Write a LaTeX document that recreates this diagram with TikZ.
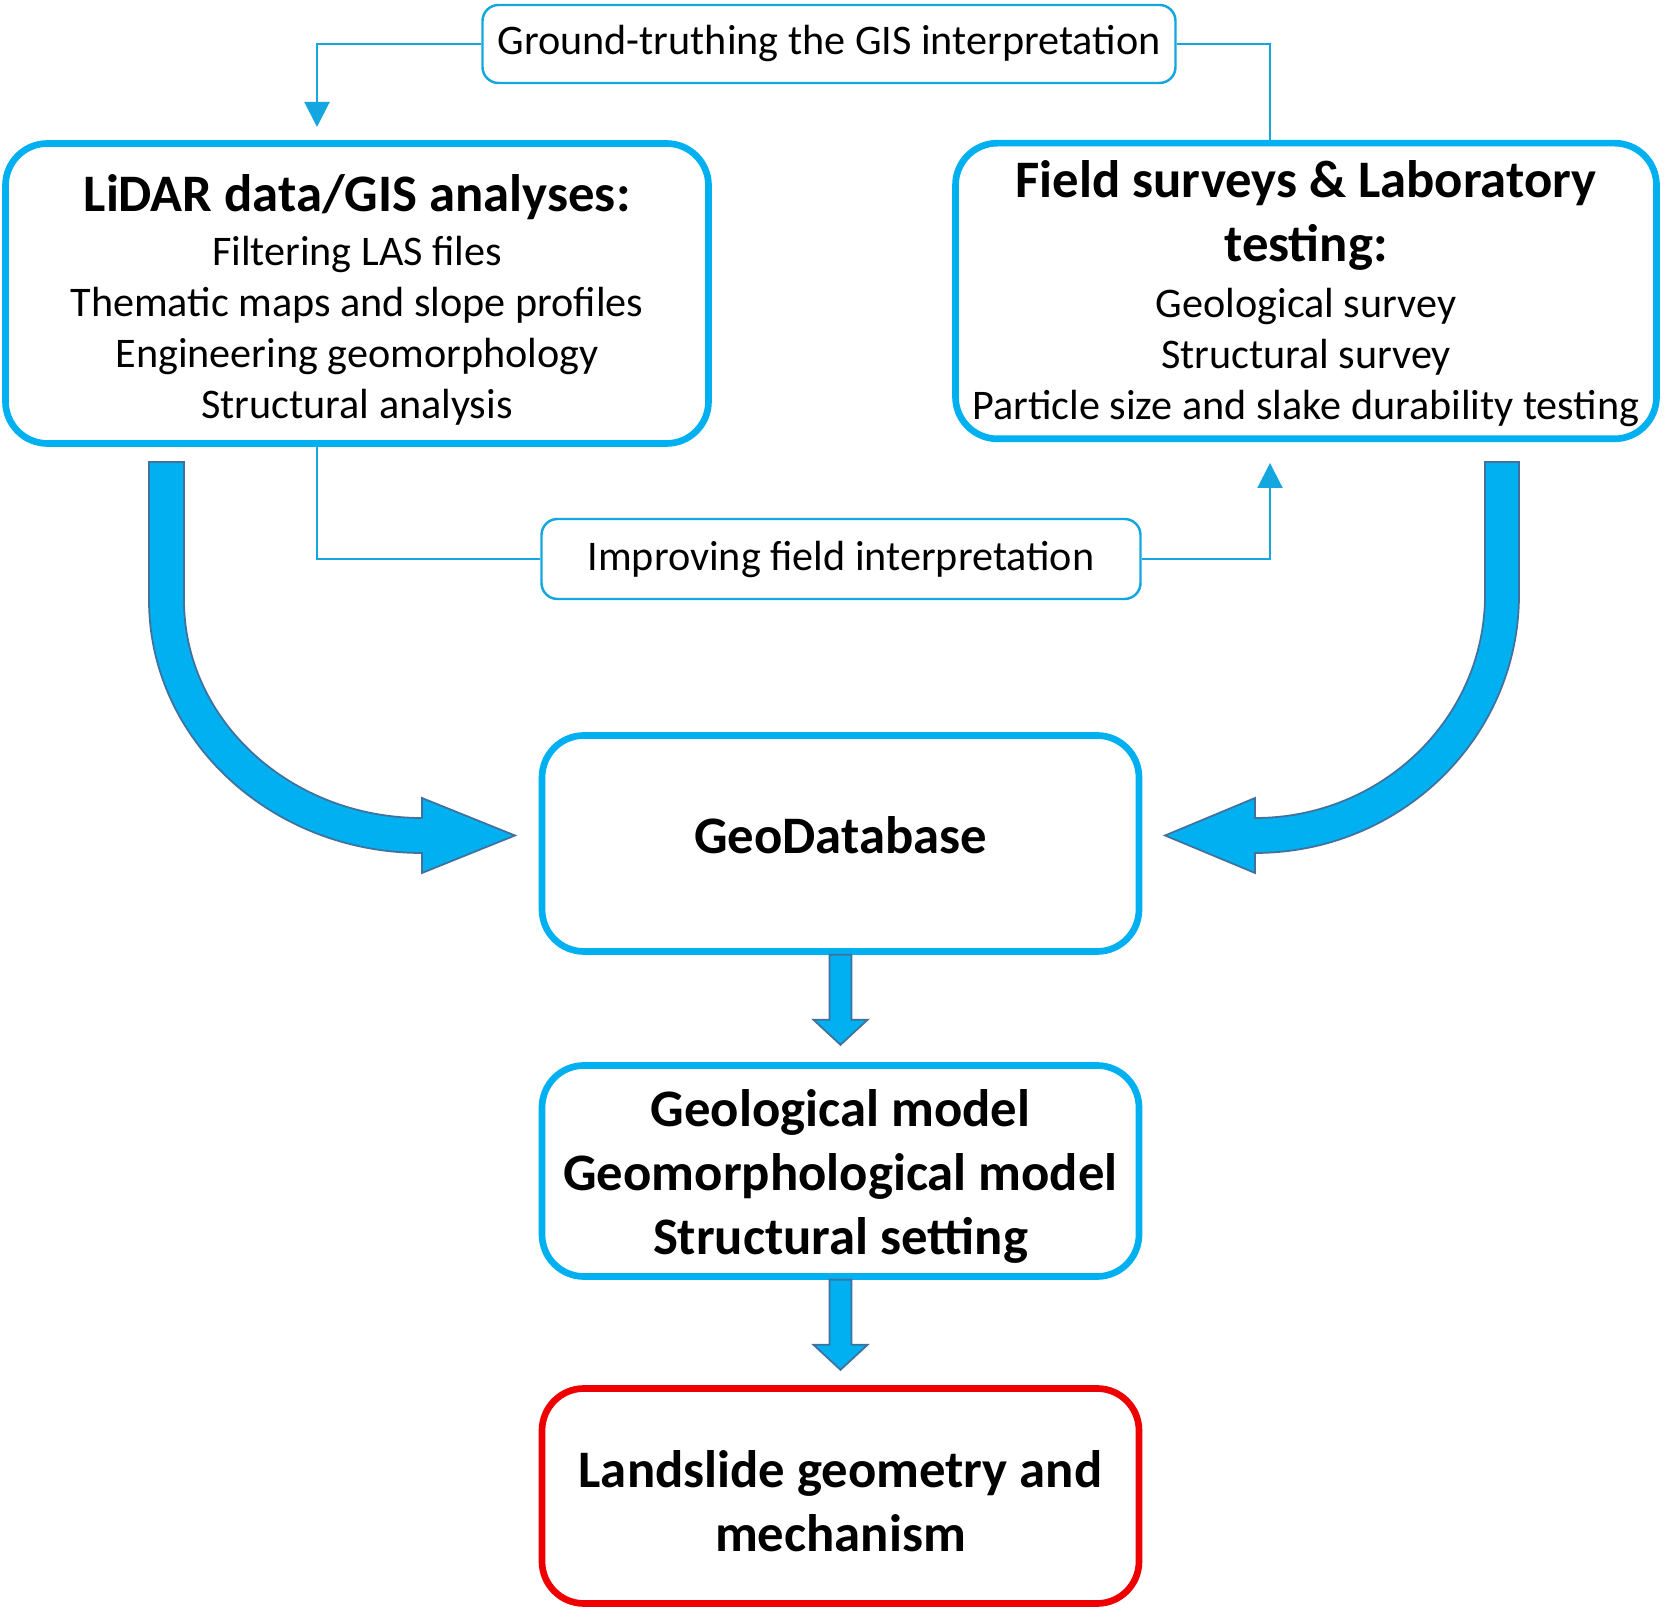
\documentclass[tikz,border=0pt]{standalone}
\usepackage{fontspec}
\setmainfont{Carlito}
\usetikzlibrary{arrows.meta}
\definecolor{boxblue}{RGB}{0,176,240}
\definecolor{linkblue}{RGB}{20,166,222}
\definecolor{arrowedge}{RGB}{65,113,156}
\definecolor{slidered}{RGB}{238,0,0}
\newcommand{\boxtitle}[1]{{\fontsize{15}{18.2}\selectfont\bfseries #1}}
\tikzset{
  mainbox/.style={draw=boxblue, line width=1.9pt, rounded corners=0.42cm, fill=white,
    align=center, font=\fontsize{12}{14.5}\selectfont},
  boldbox/.style={mainbox, font=\fontsize{15}{18.2}\selectfont\bfseries},
  notebox/.style={draw=linkblue, line width=0.7pt, rounded corners=0.16cm, fill=white,
    align=center, font=\fontsize{12}{14.5}\selectfont},
  link/.style={draw=linkblue, line width=0.6pt},
  linkarrow/.style={link, -{Triangle[width=0.25cm, length=0.25cm]}},
  fatarrow/.style={fill=boxblue, draw=arrowedge, line width=0.5pt}
}

\begin{document}
\begin{tikzpicture}
    \useasboundingbox (0,0) rectangle (16.71,16.22);
    % boxes
    \node[notebox, minimum width=6.93cm, minimum height=0.78cm] (ground) at (8.29,15.78) {Ground-truthing the GIS interpretation};
    \node[mainbox, minimum width=7.03cm, minimum height=3.0cm] (lidar) at (3.57,13.285)
      {\rule{0pt}{14pt}\boxtitle{LiDAR data/GIS analyses:}\\[1pt] Filtering LAS files\\ Thematic maps and slope profiles\\ Engineering geomorphology\\ Structural analysis};
    \node[mainbox, minimum width=7.01cm, minimum height=2.95cm] (field) at (13.06,13.31)
      {\rule{0pt}{12.2pt}\boxtitle{Field surveys \& Laboratory}\\[3.7pt] \boxtitle{testing:}\\[1.5pt] Geological survey\\ Structural survey\\ Particle size and slake durability testing};
    \node[notebox, minimum width=5.99cm, minimum height=0.80cm] (improving) at (8.41,10.63) {Improving field interpretation};
    \node[boldbox, text depth=5pt, minimum width=5.97cm, minimum height=2.16cm] (geodb) at (8.405,7.785) {GeoDatabase};
    \node[boldbox, minimum width=5.97cm, minimum height=2.11cm] (geomod) at (8.405,4.51)
      {\rule{0pt}{13.4pt}Geological model\\ Geomorphological model\\ Structural setting};
    \node[boldbox, draw=slidered, minimum width=5.97cm, minimum height=2.15cm] (slide) at (8.405,1.26)
      {\rule{0pt}{13.4pt}Landslide geometry and\\ mechanism};

    % feedback links
    \coordinate (lidarin) at (3.17,14.95);
    \coordinate (fieldin) at (12.70,11.59);
    \draw[linkarrow] (ground.west) -| (lidarin);
    \draw[link] (ground.east) -| (field.north -| 12.70,0);
    \draw[link] (lidar.south -| 3.17,0) |- (improving.west);
    \draw[linkarrow] (improving.east) -| (fieldin);

    % big curved arrows into the database
    \filldraw[fatarrow] (1.49,11.60) -- (1.49,10.22) arc[start angle=180, end angle=270, x radius=2.73, y radius=2.53]
      -- (4.22,7.49) -- (5.15,7.865) -- (4.22,8.24) -- (4.22,8.04)
      arc[start angle=270, end angle=180, x radius=2.38, y radius=2.18] -- (1.84,11.60) -- cycle;
    \filldraw[fatarrow] (15.19,11.60) -- (15.19,10.27) arc[start angle=0, end angle=-90, x radius=2.64, y radius=2.58]
      -- (12.55,7.49) -- (11.65,7.865) -- (12.55,8.24) -- (12.55,8.04)
      arc[start angle=-90, end angle=0, x radius=2.30, y radius=2.23] -- (14.85,11.60) -- cycle;

    % straight arrows down the chain
    \foreach \from in {geodb,geomod}
      \filldraw[fatarrow, shift={(\from.south)}] (-0.11,0) -- (-0.11,-0.65) -- (-0.27,-0.65) -- (0,-0.90)
        -- (0.27,-0.65) -- (0.11,-0.65) -- (0.11,0) -- cycle;
\end{tikzpicture}
\end{document}
